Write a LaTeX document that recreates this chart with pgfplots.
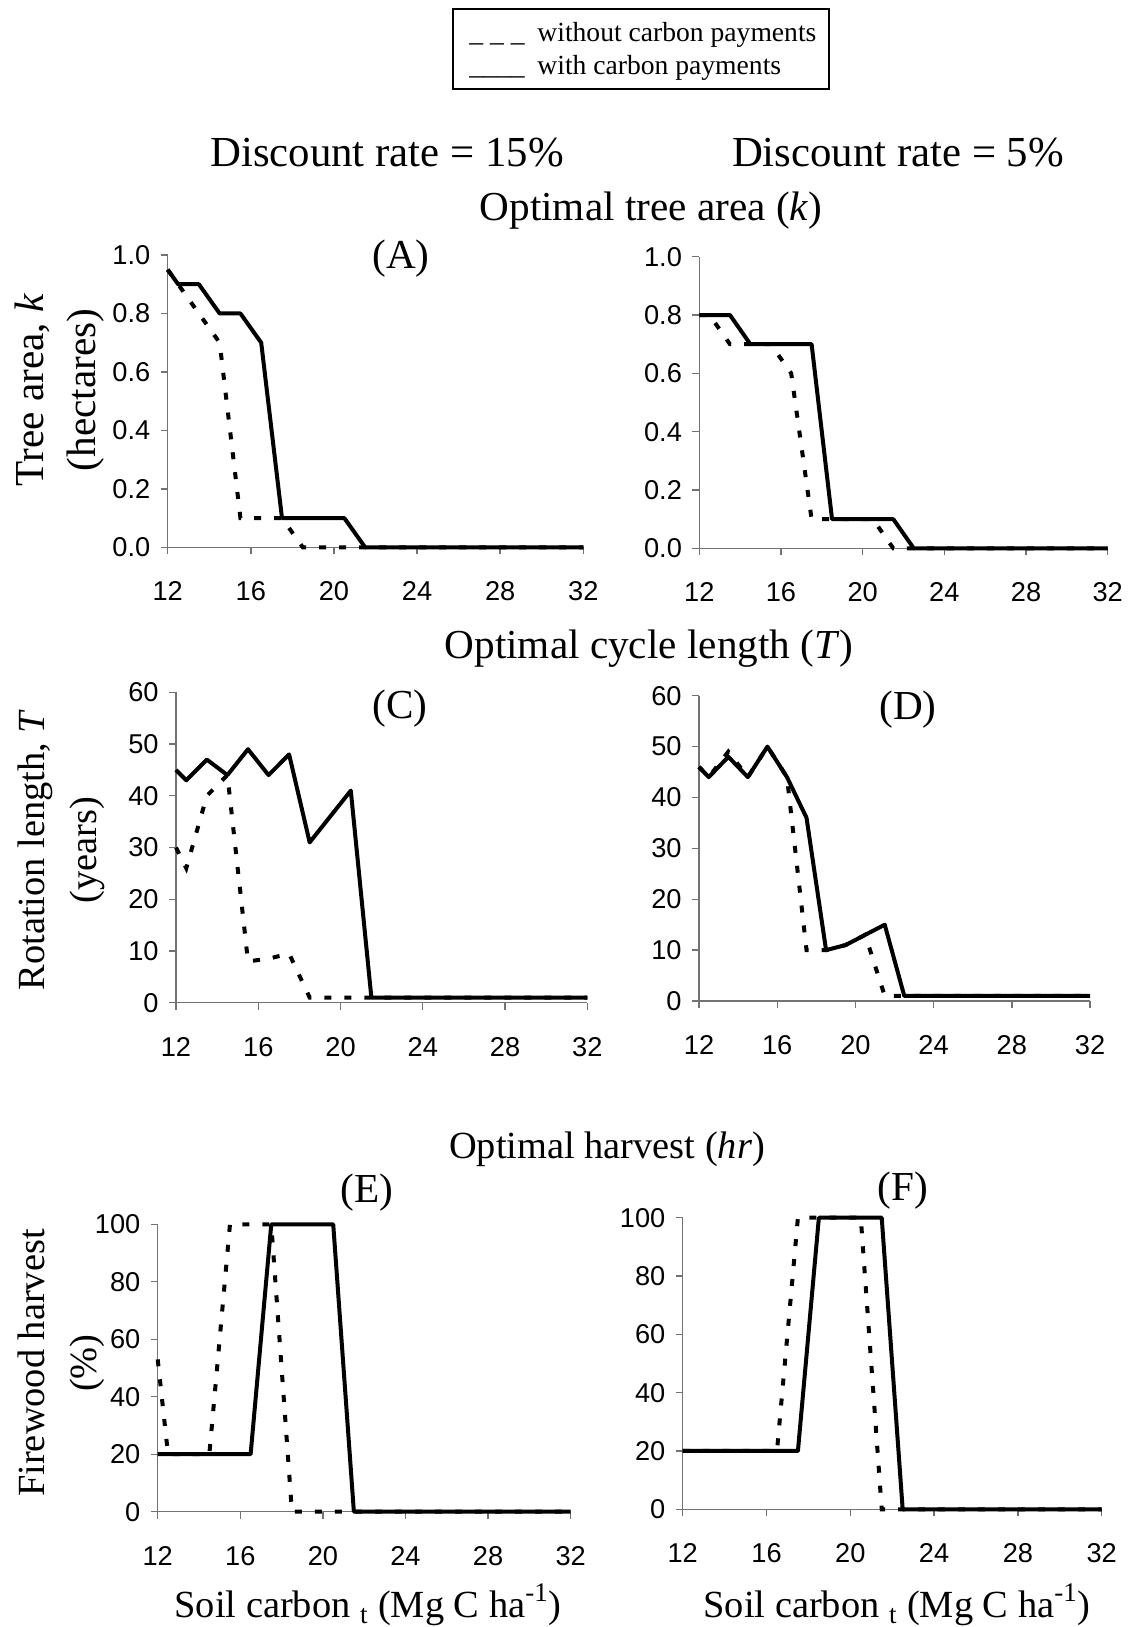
\documentclass[border=0pt]{standalone}
\usepackage{pgfplots}
\pgfplotsset{compat=1.18}
\usepackage{fontspec}
\setmainfont{Liberation Serif}
\newfontfamily\arial{Liberation Sans}

\newcommand\ttl{\fontsize{20.6}{24.7}\selectfont}
\newcommand\ttlb{\fontsize{21.4}{25}\selectfont}
\newcommand\ttls{\fontsize{19.2}{23}\selectfont}
\newcommand\lgd{\fontsize{13.8}{16}\selectfont}

\pgfplotsset{
  panel/.style={
    scale only axis, anchor=south west, clip=false,
    axis lines=left,
    axis line style={-, draw=black!55, line width=0.7pt},
    xmin=12, xmax=32, xtick={12,16,...,32},
    tick align=outside, major tick length=3.5pt,
    tick style={draw=black!55, line width=0.7pt},
    /pgf/number format/assume math mode=true,
    ticklabel style={font=\arial\fontsize{13.6}{14}\selectfont},
    xticklabel style={anchor=north, inner sep=0pt, yshift=-13.5pt},
    yticklabel style={anchor=east, inner sep=0pt, xshift=-5pt},
  },
  nopay/.style={black, line width=2pt, dash pattern=on 3.5pt off 6.5pt},
  pay/.style={black, line width=2pt, line join=round},
}

\begin{document}
\begin{tikzpicture}
\path[use as bounding box] (0,0) rectangle (565pt,-813.5pt);

% (A) tree area, 15%
\begin{axis}[panel, at={(83.85pt,-273.65pt)}, width=207.8pt, height=146.15pt,
  ymin=0, ymax=1, ytick={0,0.2,...,1.0},
  yticklabel style={/pgf/number format/.cd, fixed, fixed zerofill, precision=1}]
\addplot[nopay] table {
12 0.95
12.5 0.9
13.5 0.8
14.5 0.7
15.5 0.1
16.5 0.1
17.5 0.1
18.5 0
19.5 0
20.5 0
21.5 0
22.5 0
23.5 0
24.5 0
25.5 0
26.5 0
27.5 0
28.5 0
29.5 0
30.5 0
31.5 0
32 0
};
\addplot[pay] table {
12 0.95
12.5 0.9
13.5 0.9
14.5 0.8
15.5 0.8
16.5 0.7
17.5 0.1
18.5 0.1
19.5 0.1
20.5 0.1
21.5 0
22.5 0
23.5 0
24.5 0
25.5 0
26.5 0
27.5 0
28.5 0
29.5 0
30.5 0
31.5 0
32 0
};
\end{axis}

% (B) tree area, 5%
\begin{axis}[panel, at={(349.65pt,-274.15pt)}, width=204.2pt, height=145.8pt,
  ymin=0, ymax=1, ytick={0,0.2,...,1.0},
  yticklabel style={/pgf/number format/.cd, fixed, fixed zerofill, precision=1}]
\addplot[nopay] table {
12 0.8
12.5 0.8
13.5 0.7
14.5 0.7
15.5 0.7
16.5 0.6
17.5 0.1
18.5 0.1
19.5 0.1
20.5 0.1
21.5 0
22.5 0
23.5 0
24.5 0
25.5 0
26.5 0
27.5 0
28.5 0
29.5 0
30.5 0
31.5 0
32 0
};
\addplot[pay] table {
12 0.8
12.5 0.8
13.5 0.8
14.5 0.7
15.5 0.7
16.5 0.7
17.5 0.7
18.5 0.1
19.5 0.1
20.5 0.1
21.5 0.1
22.5 0
23.5 0
24.5 0
25.5 0
26.5 0
27.5 0
28.5 0
29.5 0
30.5 0
31.5 0
32 0
};
\end{axis}

% (C) cycle length, 15%
\begin{axis}[panel, at={(88pt,-501.35pt)}, width=205.65pt, height=155.2pt,
  ymin=0, ymax=60, ytick={0,10,...,60}]
\addplot[nopay] table {
12 30
12.5 26
13.5 40
14.5 44
15.5 8
16.5 8.5
17.5 9.5
18.5 1
19.5 1
20.5 1
21.5 1
22.5 1
23.5 1
24.5 1
25.5 1
26.5 1
27.5 1
28.5 1
29.5 1
30.5 1
31.5 1
32 1
};
\addplot[pay] table {
12 45
12.5 43
13.5 47
14.5 44
15.5 49
16.5 44
17.5 48
18.5 31
19.5 36
20.5 41
21.5 1
22.5 1
23.5 1
24.5 1
25.5 1
26.5 1
27.5 1
28.5 1
29.5 1
30.5 1
31.5 1
32 1
};
\end{axis}

% (D) cycle length, 5%
\begin{axis}[panel, at={(349.5pt,-500.5pt)}, width=195.5pt, height=152.65pt,
  ymin=0, ymax=60, ytick={0,10,...,60}]
\addplot[nopay] table {
12 46
12.5 44
13.5 49
14.5 44
15.5 50
16.5 44
17.5 10
18.5 10
19.5 11
20.5 13
21.5 1
22.5 1
23.5 1
24.5 1
25.5 1
26.5 1
27.5 1
28.5 1
29.5 1
30.5 1
31.5 1
32 1
};
\addplot[pay] table {
12 46
12.5 44
13.5 48
14.5 44
15.5 50
16.5 44
17.5 36
18.5 10
19.5 11
20.5 13
21.5 15
22.5 1
23.5 1
24.5 1
25.5 1
26.5 1
27.5 1
28.5 1
29.5 1
30.5 1
31.5 1
32 1
};
\end{axis}

% (E) harvest, 15%
\begin{axis}[panel, at={(78.85pt,-755.85pt)}, width=206.5pt, height=143.7pt,
  ymin=0, ymax=100, ytick={0,20,...,100}]
\addplot[nopay] table {
12 53
12.5 20
13.5 20
14.5 20
15.5 100
16.5 100
17.5 100
18.5 0
19.5 0
20.5 0
21.5 0
22.5 0
23.5 0
24.5 0
25.5 0
26.5 0
27.5 0
28.5 0
29.5 0
30.5 0
31.5 0
32 0
};
\addplot[pay] table {
12 20
12.5 20
13.5 20
14.5 20
15.5 20
16.5 20
17.5 100
18.5 100
19.5 100
20.5 100
21.5 0
22.5 0
23.5 0
24.5 0
25.5 0
26.5 0
27.5 0
28.5 0
29.5 0
30.5 0
31.5 0
32 0
};
\end{axis}

% (F) harvest, 5%
\begin{axis}[panel, at={(341.35pt,-754.65pt)}, width=209.5pt, height=145.8pt,
  ymin=0, ymax=100, ytick={0,20,...,100}]
\addplot[nopay] table {
12 20
12.5 20
13.5 20
14.5 20
15.5 20
16.5 20
17.5 100
18.5 100
19.5 100
20.5 100
21.5 0
22.5 0
23.5 0
24.5 0
25.5 0
26.5 0
27.5 0
28.5 0
29.5 0
30.5 0
31.5 0
32 0
};
\addplot[pay] table {
12 20
12.5 20
13.5 20
14.5 20
15.5 20
16.5 20
17.5 20
18.5 100
19.5 100
20.5 100
21.5 100
22.5 0
23.5 0
24.5 0
25.5 0
26.5 0
27.5 0
28.5 0
29.5 0
30.5 0
31.5 0
32 0
};
\end{axis}

\begin{scope}[x=0.5pt, y=-0.5pt]
% legend box
\draw[line width=0.75pt] (453,9) rectangle (829,89);
\node[anchor=base west, inner sep=0pt, font=\lgd] at (469,42) {\_\ \_\ \_};
\node[anchor=base west, inner sep=0pt, font=\lgd] at (537,42) {without carbon payments};
\node[anchor=base west, inner sep=0pt, font=\lgd] at (469,75) {\_\_\_\_};
\node[anchor=base west, inner sep=0pt, font=\lgd] at (537,75) {with carbon payments};

% column and row titles
\node[anchor=base, inner sep=0pt, font=\ttlb] at (387,166) {Discount rate = 15\%};
\node[anchor=base, inner sep=0pt, font=\ttlb] at (898,166) {Discount rate = 5\%};
\node[anchor=base, inner sep=0pt, font=\ttl] at (651,220) {Optimal tree area (\textit{k})};
\node[anchor=base, inner sep=0pt, font=\ttl] at (649,658) {Optimal cycle length (\textit{T})};
\node[anchor=base, inner sep=0pt, font=\ttls] at (607,1158) {Optimal harvest (\textit{hr})};

% panel letters
\node[anchor=base, inner sep=0pt, font=\ttl] at (401,268) {(A)};
\node[anchor=base, inner sep=0pt, font=\ttl] at (400,718) {(C)};
\node[anchor=base, inner sep=0pt, font=\ttl] at (908,719) {(D)};
\node[anchor=base, inner sep=0pt, font=\ttl] at (367,1202) {(E)};
\node[anchor=base, inner sep=0pt, font=\ttl] at (903,1200) {(F)};

% y labels
\node[anchor=base, rotate=90, inner sep=0pt, font=\ttl] at (43,390) {Tree area, \textit{k}};
\node[anchor=base, rotate=90, inner sep=0pt, font=\ttl] at (95,390) {(hectares)};
\node[anchor=base, rotate=90, inner sep=0pt, font=\ttls] at (44,850) {Rotation length, \textit{T}};
\node[anchor=base, rotate=90, inner sep=0pt, font=\ttls] at (96,850) {(years)};
\node[anchor=base, rotate=90, inner sep=0pt, font=\ttls] at (44,1363) {Firewood harvest};
\node[anchor=base, rotate=90, inner sep=0pt, font=\ttls] at (96,1363) {(\%)};

% x labels
\node[anchor=base, inner sep=0pt, font=\ttls] at (368,1617) {Soil carbon \textsubscript{t} (Mg C ha\textsuperscript{-1})};
\node[anchor=base, inner sep=0pt, font=\ttls] at (897,1617) {Soil carbon \textsubscript{t} (Mg C ha\textsuperscript{-1})};
\end{scope}
\end{tikzpicture}
\end{document}
